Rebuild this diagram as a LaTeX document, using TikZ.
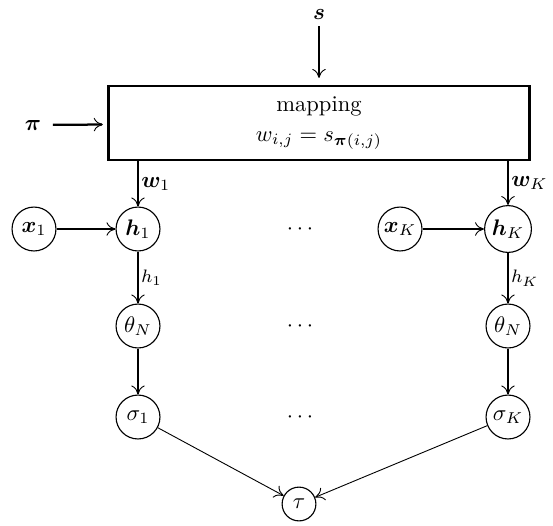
\documentclass[tikz,border=0pt]{standalone}
\usepackage{bm}
\usetikzlibrary{arrows.meta}
\begin{document}
\begin{tikzpicture}[x=0.444pt,y=-0.444pt,
  var/.style={circle,draw,line width=0.5pt,minimum size=19.5pt,inner sep=1.5pt},
  thickarr/.style={line width=1pt,-{To[line width=0.4pt,length=4pt,width=6pt]}},
  thinarr/.style={line width=0.4pt,-{To[line width=0.4pt,length=4pt,width=6pt]}},
  lab/.style={inner sep=1pt}]
\useasboundingbox (0,0) rectangle (553,525);
\node[lab] (s) at (319,14) {$\bm{s}$};
\node[draw,line width=1pt,minimum width=187pt,minimum height=33pt,align=center,inner sep=2pt] (box) at (319,123)
  {mapping\\[1pt] $w_{i,j} = s_{\bm{\pi}(i,j)}$};
\node[lab] (pi) at (33,125) {$\bm{\pi}$};
\node[var] (x1) at (34,229) {$\bm{x}_1$};
\node[var] (h1) at (138,229) {$\bm{h}_1$};
\node (d1) at (300,229) {$\cdots$};
\node[var] (xK) at (400,229) {$\bm{x}_K$};
\node[var] (hK) at (508,229) {$\bm{h}_K$};
\node[var] (t1) at (138,326) {$\theta_N$};
\node (d2) at (300,326) {$\cdots$};
\node[var] (tK) at (508,326) {$\theta_N$};
\node[var] (s1) at (138,417) {$\sigma_1$};
\node (d3) at (300,417) {$\cdots$};
\node[var] (sK) at (508,417) {$\sigma_K$};
\node[var,minimum size=15pt] (tau) at (299,504) {$\tau$};
\draw[thickarr,shorten <=2pt,shorten >=3pt] (s) -- (box);
\draw[thickarr,shorten <=4pt,shorten >=2pt] (pi) -- (box);
\draw[thickarr] (h1 |- box.south) -- node[right,lab,pos=0.5] {$\bm{w}_1$} (h1);
\draw[thickarr] (hK |- box.south) -- node[right,lab,pos=0.5] {$\bm{w}_K$} (hK);
\draw[thickarr] (x1) -- (h1);
\draw[thickarr] (xK) -- (hK);
\draw[thickarr] (h1) -- node[right,lab,font=\footnotesize] {$h_1$} (t1);
\draw[thickarr] (hK) -- node[right,lab,font=\footnotesize] {$h_K$} (tK);
\draw[thickarr] (t1) -- (s1);
\draw[thickarr] (tK) -- (sK);
\draw[thinarr] (s1) -- (tau);
\draw[thinarr] (sK) -- (tau);
\end{tikzpicture}
\end{document}
